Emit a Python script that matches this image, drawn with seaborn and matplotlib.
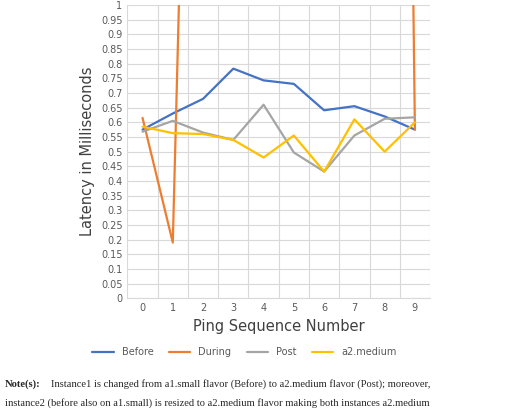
import numpy as np
import pandas as pd
import seaborn as sns
import matplotlib.pyplot as plt

seq = list(range(10))
before = [0.575, 0.63, 0.68, 0.783, 0.743, 0.731, 0.641, 0.655, 0.62, 0.575]
during = [0.615, 0.19, 4.2, 5.0, 5.0, 5.0, 5.0, 5.0, 9.0, 0.575]
post = [0.568, 0.605, 0.565, 0.54, 0.66, 0.497, 0.432, 0.555, 0.612, 0.617]
a2_medium = [0.585, 0.563, 0.56, 0.54, 0.48, 0.555, 0.432, 0.61, 0.5, 0.6]

df = pd.DataFrame({'seq': seq, 'Before': before, 'During': during,
                   'Post': post, 'a2.medium': a2_medium})
long = df.melt(id_vars='seq', var_name='series', value_name='latency')

sns.set_style('white')
fig = plt.figure(figsize=(5.2, 4.16), dpi=100)
ax = fig.add_axes([0.245, 0.283, 0.582, 0.705])
palette = {'Before': '#4472C4', 'During': '#ED7D31', 'Post': '#A5A5A5', 'a2.medium': '#FFC000'}
sns.lineplot(data=long, x='seq', y='latency', hue='series', palette=palette,
             linewidth=1.6, ax=ax, legend=False)
ax.set_xlim(-0.5, 9.5)
ax.set_ylim(0, 1)
ax.set_xticks(seq)
yt = np.arange(0, 1.0001, 0.05)
ax.set_yticks(yt)
ax.set_yticklabels([('%.2f' % v).rstrip('0').rstrip('.') if v > 0 else '0' for v in yt])
ax.set_xticks(np.arange(-0.5, 10, 1), minor=True)
ax.grid(True, which='major', axis='y', color='#d9d9d9', linewidth=0.8)
ax.grid(True, which='minor', axis='x', color='#d9d9d9', linewidth=0.8)
ax.tick_params(axis='both', labelsize=7, colors='#595959', length=0)
for s in ['top', 'right', 'left']:
    ax.spines[s].set_visible(False)
ax.spines['bottom'].set_color('#d9d9d9')
ax.set_xlabel('Ping Sequence Number', fontsize=10.5, color='#404040')
ax.set_ylabel('Latency in Milliseconds', fontsize=10.5, color='#404040')

handles = [plt.Line2D([], [], color=palette[k], lw=1.6) for k in palette]
fig.legend(handles, list(palette), loc='center', bbox_to_anchor=(0.47, 0.153), ncol=4,
           frameon=False, fontsize=7, handlelength=2.2, columnspacing=1.6, labelcolor='#595959')

fig.text(0.01, 0.07, 'Note(s):', fontsize=7.6, family='Liberation Serif', fontweight='bold')
fig.text(0.098, 0.07, 'Instance1 is changed from a1.small flavor (Before) to a2.medium flavor (Post); moreover,',
         fontsize=7.6, family='Liberation Serif')
fig.text(0.01, 0.025, 'instance2 (before also on a1.small) is resized to a2.medium flavor making both instances a2.medium',
         fontsize=7.6, family='Liberation Serif')
fig.savefig('out.png', dpi=100)
